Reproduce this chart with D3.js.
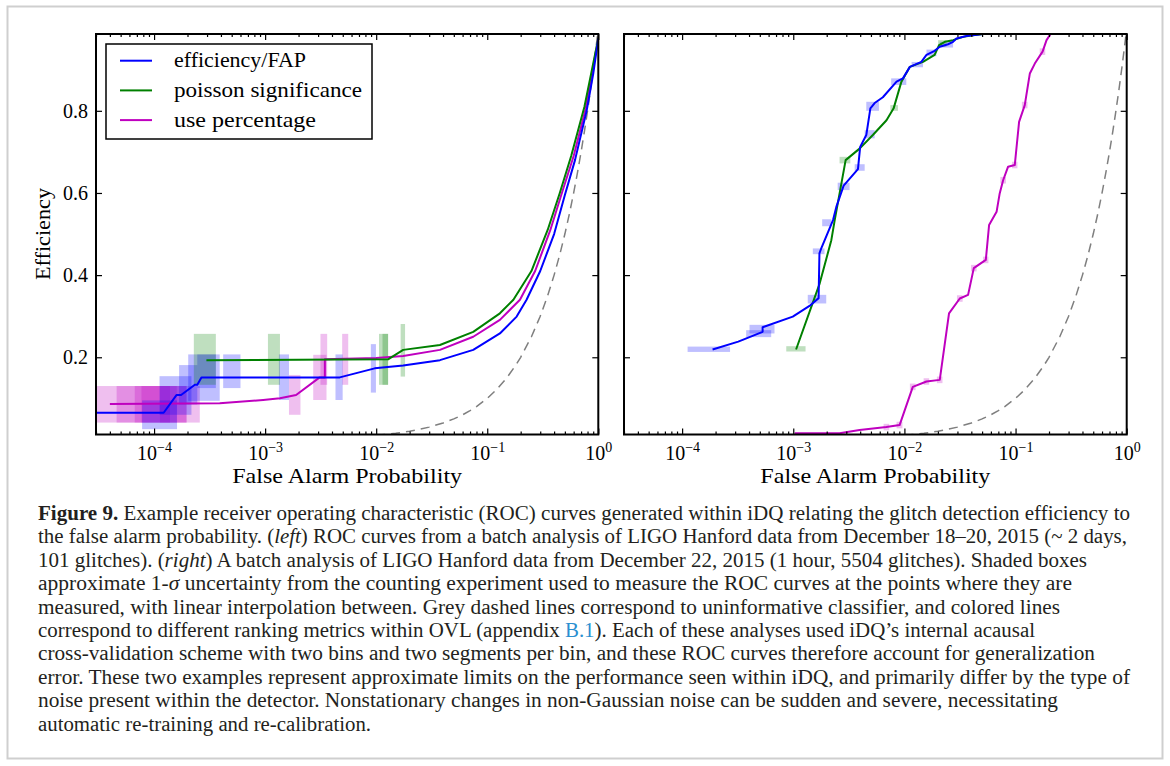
<!DOCTYPE html>
<html>
<head>
<meta charset="utf-8">
<script src="https://cdn.jsdelivr.net/npm/d3@7"></script>
<style>
  body { margin: 0; background: #fff; }
</style>
</head>
<body>
<svg width="1170" height="766"></svg>
<script>
// axes
const xDomain = [3e-5, 1];
const yDomain = [0.012, 0.987];
const xTicks = [1e-4, 1e-3, 1e-2, 1e-1, 1];
const xTickExp = ["\u22124", "\u22123", "\u22122", "\u22121", "0"];
const yTicks = [0.2, 0.4, 0.6, 0.8];

// left panel curves: [FAP, efficiency]
const leftBlue = [[3e-5,0.065],[1.22e-4,0.065],[1.59e-4,0.108],[1.75e-4,0.108],[2.33e-4,0.133],[2.45e-4,0.133],
  [2.67e-4,0.151],[4.7e-3,0.151],[9.7e-3,0.173],[0.0175,0.18],[0.0375,0.193],[0.0748,0.218],[0.130,0.258],
  [0.184,0.299],[0.226,0.34],[0.3,0.41],[0.4,0.5],[0.5,0.595],[0.617,0.68],[0.785,0.8],[0.9,0.89],[1,0.976]];
const leftGreen = [[2.96e-4,0.193],[0.0128,0.195],[0.0175,0.218],[0.0375,0.23],[0.0748,0.262],[0.130,0.307],
  [0.172,0.34],[0.25,0.41],[0.35,0.51],[0.45,0.6],[0.57,0.69],[0.75,0.81],[1,0.976]];
const leftMagenta = [[4e-5,0.086],[3.9e-4,0.088],[9.6e-4,0.096],[1.36e-3,0.1],[1.9e-3,0.108],[3.1e-3,0.151],
  [3.45e-3,0.151],[3.45e-3,0.195],[0.01,0.198],[0.0175,0.203],[0.0375,0.218],[0.0748,0.25],[0.130,0.291],
  [0.197,0.34],[0.27,0.41],[0.37,0.51],[0.47,0.6],[0.6,0.69],[0.77,0.805],[1,0.976]];

// left panel uncertainty boxes: [FAP lo, FAP hi, eff lo, eff hi]
const leftMagentaBoxes = [[3e-5,1.39e-4,0.041,0.130],[4.6e-5,1.96e-4,0.041,0.130],[6.7e-5,2.58e-4,0.041,0.130],
  [7.7e-5,1.6e-4,0.041,0.130],[1.13e-4,1.96e-4,0.041,0.130],[1.64e-3,2.08e-3,0.06,0.157],
  [2.71e-3,3.57e-3,0.096,0.206],[3.15e-3,3.62e-3,0.133,0.257],[4.94e-3,5.6e-3,0.133,0.257]];
const leftBlueBoxes = [[7.8e-5,1.61e-4,0.025,0.095],[1.12e-4,2.17e-4,0.060,0.154],[1.68e-4,2.45e-4,0.085,0.181],
  [2.03e-4,3.9e-4,0.094,0.207],[2.45e-4,3.6e-4,0.125,0.207],[4.19e-4,6.0e-4,0.125,0.207],
  [1.33e-3,1.64e-3,0.096,0.207],[4.3e-3,4.99e-3,0.096,0.207],[8.95e-3,9.95e-3,0.114,0.232]];
const leftGreenBoxes = [[2.28e-4,3.6e-4,0.133,0.257],[1.06e-3,1.36e-3,0.133,0.257],[1.06e-2,1.28e-2,0.133,0.257],
  [1.14e-2,1.28e-2,0.133,0.257],[1.66e-2,1.82e-2,0.153,0.281]];

// right panel curves
const rightBlue = [[1.88e-4,0.219],[3.2e-4,0.238],[5.3e-4,0.262],[5.3e-4,0.273],[9.9e-4,0.299],[1.4e-3,0.325],
  [1.69e-3,0.344],[1.72e-3,0.453],[1.79e-3,0.466],[2.28e-3,0.534],[2.44e-3,0.566],[2.84e-3,0.618],[3.82e-3,0.658],
  [4.0e-3,0.712],[4.54e-3,0.741],[4.94e-3,0.806],[5.4e-3,0.819],[6.4e-3,0.833],[8.5e-3,0.871],[9.7e-3,0.879],
  [1.12e-2,0.907],[1.42e-2,0.919],[1.58e-2,0.936],[1.87e-2,0.946],[2.08e-2,0.956],[2.47e-2,0.962],[2.74e-2,0.968],
  [2.94e-2,0.976],[3.61e-2,0.982],[5.1e-2,0.987]];
const rightGreen = [[1.06e-3,0.219],[1.73e-3,0.38],[2.2e-3,0.485],[2.36e-3,0.534],[2.96e-3,0.68],[3.95e-3,0.708],
  [5.2e-3,0.741],[6.9e-3,0.777],[8.0e-3,0.806],[9.4e-3,0.871],[1.12e-2,0.907],[1.47e-2,0.919],[1.87e-2,0.936],
  [2.05e-2,0.96],[2.31e-2,0.968],[2.74e-2,0.972],[3.37e-2,0.98],[4.15e-2,0.984],[5.1e-2,0.987]];
const rightMagenta = [[1.03e-3,0.015],[2.61e-3,0.015],[3.95e-3,0.023],[6.88e-3,0.030],[9.05e-3,0.035],[1.19e-2,0.128],
  [1.58e-2,0.141],[2.08e-2,0.145],[2.52e-2,0.307],[3.15e-2,0.343],[3.74e-2,0.352],[4.21e-2,0.417],[5.4e-2,0.437],
  [5.78e-2,0.522],[6.75e-2,0.554],[7.2e-2,0.599],[7.73e-2,0.631],[8.57e-2,0.664],[9.84e-2,0.668],[0.1076,0.773],
  [0.121,0.814],[0.1345,0.891],[0.149,0.915],[0.175,0.944],[0.19,0.972],[0.2065,0.987]];

const rightBlueBoxes = [[1.12e-4,2.7e-4,0.213,0.226],[3.77e-4,6.33e-4,0.249,0.266],[4.04e-4,6.78e-4,0.258,0.279],
  [1.35e-3,1.98e-3,0.331,0.352],[1.5e-3,1.91e-3,0.451,0.465],[1.82e-3,2.2e-3,0.519,0.536],[2.51e-3,3.21e-3,0.607,0.625],
  [3.57e-3,4.39e-3,0.654,0.670],[4.39e-3,5.4e-3,0.733,0.753],[4.54e-3,5.9e-3,0.800,0.822],[7.6e-3,1.04e-2,0.863,0.879],
  [1.16e-2,1.47e-2,0.906,0.919],[1.58e-2,1.94e-2,0.933,0.949],[2.08e-2,2.74e-2,0.954,0.968]];
const rightGreenBoxes = [[8.65e-4,1.29e-3,0.214,0.227],[2.61e-3,3.26e-3,0.672,0.688],[7.48e-3,8.75e-3,0.800,0.814],
  [2.01e-2,2.39e-2,0.956,0.972]];
const rightMagentaBoxes = [[6.5e-3,7.3e-3,0.022,0.038],[8.5e-3,9.6e-3,0.027,0.043],[1.12e-2,1.26e-2,0.120,0.136],
  [1.49e-2,1.67e-2,0.133,0.149],[1.96e-2,2.2e-2,0.137,0.153],[2.97e-2,3.34e-2,0.335,0.351],[3.97e-2,4.46e-2,0.409,0.425],
  [5.1e-2,5.7e-2,0.429,0.445],[7.3e-2,8.2e-2,0.623,0.639],[9.3e-2,0.104,0.66,0.676],[0.114,0.128,0.806,0.822],
  [0.165,0.185,0.936,0.952]];

// uninformative classifier: efficiency = FAP
const chanceFap = [0.01,0.012,0.015,0.02,0.025,0.03,0.04,0.05,0.06,0.07,0.08,0.1,0.12,0.15,0.18,0.2,0.25,0.3,
  0.35,0.4,0.45,0.5,0.55,0.6,0.65,0.7,0.75,0.8,0.85,0.9,0.95,1];

const legendNames = ["efficiency/FAP", "poisson significance", "use percentage"];
const legendWidths = [132, 188, 142];
const colors = { blue: "#0000ff", green: "#008000", magenta: "#bf00bf" };

const caption = [
  [["Figure 9.", "b"], [" Example receiver operating characteristic (ROC) curves generated within iDQ relating the glitch detection efficiency to"]],
  [["the false alarm probability. ("], ["left", "i"], [") ROC curves from a batch analysis of LIGO Hanford data from December 18\u201320, 2015 (~ 2 days,"]],
  [["101 glitches). ("], ["right", "i"], [") A batch analysis of LIGO Hanford data from December 22, 2015 (1 hour, 5504 glitches). Shaded boxes"]],
  [["approximate 1-"], ["\u03c3", "i"], [" uncertainty from the counting experiment used to measure the ROC curves at the points where they are"]],
  [["measured, with linear interpolation between. Grey dashed lines correspond to uninformative classifier, and colored lines"]],
  [["correspond to different ranking metrics within OVL (appendix "], ["B.1", "l"], ["). Each of these analyses used iDQ\u2019s internal acausal"]],
  [["cross-validation scheme with two bins and two segments per bin, and these ROC curves therefore account for generalization"]],
  [["error. These two examples represent approximate limits on the performance seen within iDQ, and primarily differ by the type of"]],
  [["noise present within the detector. Nonstationary changes in non-Gaussian noise can be sudden and severe, necessitating"]],
  [["automatic re-training and re-calibration."]]
];
const captionEnds = [1130, 1127, 1087, 1072, 1060, 1035, 1095, 1130, 1058, 371];

const svg = d3.select("svg");
const serif = "'Liberation Serif', 'Times New Roman', serif";
const plotTop = 34, plotBottom = 434.5;

svg.append("rect").attr("x", 7.5).attr("y", 6.5).attr("width", 1155).attr("height", 752)
  .attr("fill", "#fff").attr("stroke", "#cfcfcf").attr("stroke-width", 2);

function drawPanel(id, x0, x1, lines, boxes, showYLabels) {
  const x = d3.scaleLog().domain(xDomain).range([x0, x1]);
  const y = d3.scaleLinear().domain(yDomain).range([plotBottom, plotTop]);
  const g = svg.append("g");

  svg.append("clipPath").attr("id", id).append("rect")
    .attr("x", x0).attr("y", plotTop).attr("width", x1 - x0).attr("height", plotBottom - plotTop);
  const plot = g.append("g").attr("clip-path", `url(#${id})`);

  boxes.forEach(([data, col]) => {
    plot.append("g").selectAll("rect").data(data).join("rect")
      .attr("x", d => x(d[0])).attr("width", d => x(d[1]) - x(d[0]))
      .attr("y", d => y(d[3])).attr("height", d => y(d[2]) - y(d[3]))
      .attr("fill", col).attr("fill-opacity", 0.25);
  });

  const line = d3.line().x(d => x(d[0])).y(d => y(d[1]));
  plot.append("path").datum(chanceFap.map(f => [f, f])).attr("d", line)
    .attr("fill", "none").attr("stroke", "#7f7f7f").attr("stroke-width", 1.5).attr("stroke-dasharray", "9,6");

  lines.forEach(([data, col]) => {
    plot.append("path").datum(data).attr("d", line)
      .attr("fill", "none").attr("stroke", col).attr("stroke-width", 2).attr("stroke-linejoin", "round");
  });

  // ticks
  const minor = [];
  for (let e = -5; e < 0; e++) for (let k = 2; k <= 9; k++) {
    const v = k * Math.pow(10, e);
    if (v >= xDomain[0] && v <= xDomain[1]) minor.push(v);
  }
  const tickStyle = a => a.call(s => s.select(".domain").remove())
    .selectAll("line").attr("stroke", "#000").attr("stroke-width", 1.2);

  g.append("g").attr("transform", `translate(0,${plotBottom})`)
    .call(d3.axisBottom(x).tickValues(minor).tickSize(-3).tickFormat("")).call(tickStyle);
  g.append("g").attr("transform", `translate(0,${plotTop})`)
    .call(d3.axisTop(x).tickValues(minor).tickSize(-3).tickFormat("")).call(tickStyle);
  g.append("g").attr("transform", `translate(0,${plotTop})`)
    .call(d3.axisTop(x).tickValues(xTicks).tickSize(-6).tickFormat("")).call(tickStyle);
  const bx = g.append("g").attr("transform", `translate(0,${plotBottom})`)
    .call(d3.axisBottom(x).tickValues(xTicks).tickSize(-6).tickFormat("")).call(tickStyle);
  bx.selectAll(".tick").append("text")
    .attr("y", 25.5).attr("fill", "#000").attr("text-anchor", "middle")
    .attr("font-family", serif).attr("font-size", 20)
    .each(function(d, i) {
      const t = d3.select(this);
      t.append("tspan").text("10");
      t.append("tspan").attr("dy", -8).attr("font-size", 14).text(xTickExp[i]);
    });

  const ly = g.append("g").attr("transform", `translate(${x0},0)`)
    .call(d3.axisLeft(y).tickValues(yTicks).tickSize(-6).tickPadding(8)
      .tickFormat(showYLabels ? d3.format(".1f") : ""));
  ly.call(tickStyle);
  ly.selectAll("text").attr("font-family", serif).attr("font-size", 20).attr("fill", "#000");
  g.append("g").attr("transform", `translate(${x1},0)`)
    .call(d3.axisRight(y).tickValues(yTicks).tickSize(-6).tickFormat("")).call(tickStyle);

  g.append("rect").attr("x", x0).attr("y", plotTop).attr("width", x1 - x0).attr("height", plotBottom - plotTop)
    .attr("fill", "none").attr("stroke", "#000").attr("stroke-width", 2);

  g.append("text").attr("x", (x0 + x1) / 2).attr("y", 483).attr("text-anchor", "middle")
    .attr("font-family", serif).attr("font-size", 21)
    .attr("textLength", 230).attr("lengthAdjust", "spacingAndGlyphs").text("False Alarm Probability");
}

drawPanel("clipL", 96, 598.3,
  [[leftMagenta, colors.magenta], [leftGreen, colors.green], [leftBlue, colors.blue]],
  [[leftMagentaBoxes, colors.magenta], [leftBlueBoxes, colors.blue], [leftGreenBoxes, colors.green]], true);
drawPanel("clipR", 624, 1126.7,
  [[rightMagenta, colors.magenta], [rightGreen, colors.green], [rightBlue, colors.blue]],
  [[rightMagentaBoxes, colors.magenta], [rightBlueBoxes, colors.blue], [rightGreenBoxes, colors.green]], false);

// y label
svg.append("text").attr("transform", "translate(50,234) rotate(-90)").attr("text-anchor", "middle")
  .attr("font-family", serif).attr("font-size", 21)
  .attr("textLength", 92).attr("lengthAdjust", "spacingAndGlyphs").text("Efficiency");

// legend
const leg = svg.append("g");
leg.append("rect").attr("x", 106).attr("y", 44).attr("width", 266).attr("height", 95)
  .attr("fill", "#fff").attr("stroke", "#000").attr("stroke-width", 1.5);
[colors.blue, colors.green, colors.magenta].forEach((c, i) => {
  const yy = 60.7 + i * 29.7;
  leg.append("line").attr("x1", 120).attr("x2", 152).attr("y1", yy).attr("y2", yy)
    .attr("stroke", c).attr("stroke-width", 2);
  leg.append("text").attr("x", 174).attr("y", yy).attr("dy", "0.32em")
    .attr("font-family", serif).attr("font-size", 21)
    .attr("textLength", legendWidths[i]).attr("lengthAdjust", "spacingAndGlyphs").text(legendNames[i]);
});

// caption
caption.forEach((segs, i) => {
  const t = svg.append("text").attr("x", 38).attr("y", 520 + i * 23.4)
    .attr("font-family", serif).attr("font-size", 20).attr("fill", "#231f20")
    .attr("textLength", captionEnds[i] - 38).attr("lengthAdjust", "spacingAndGlyphs");
  segs.forEach(([s, st]) => {
    const sp = t.append("tspan").text(s);
    if (st === "b") sp.attr("font-weight", "bold");
    if (st === "i") sp.attr("font-style", "italic");
    if (st === "l") sp.attr("fill", "#2b8fd0");
  });
});
</script>
</body>
</html>
